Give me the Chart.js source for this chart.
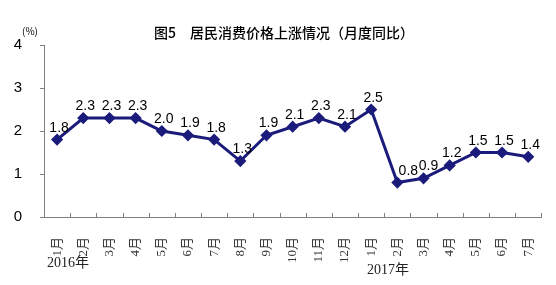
<!DOCTYPE html>
<html>
<head>
<meta charset="utf-8">
<script src="https://cdn.jsdelivr.net/npm/chart.js@4.4.0/dist/chart.umd.min.js"></script>
<style>
  html, body { margin: 0; padding: 0; background: #fff; }
  #wrap { width: 556px; height: 285px; }
</style>
</head>
<body>
<div id="wrap"><canvas id="c"></canvas></div>
<script>
const months = ["1月", "2月", "3月", "4月", "5月", "6月", "7月", "8月", "9月", "10月", "11月", "12月",
                "1月", "2月", "3月", "4月", "5月", "6月", "7月"];
const cpiYoY = [1.8, 2.3, 2.3, 2.3, 2.0, 1.9, 1.8, 1.3, 1.9, 2.1, 2.3, 2.1,
                2.5, 0.8, 0.9, 1.2, 1.5, 1.5, 1.4];
const yTicks = [0, 1, 2, 3, 4];
const yearLabels = ["2016年", "2017年"];
const titleText = "图5　居民消费价格上涨情况（月度同比）";

const LINE = "#1b1b7c";

// extra texts, x-axis inner ticks and value labels
const decor = {
    id: "decor",
    afterDraw(chart) {
        const ctx = chart.ctx;
        const area = chart.chartArea;
        ctx.save();

        // title
        ctx.fillStyle = "#000";
        ctx.font = "500 14px 'Noto Sans CJK SC'";
        ctx.textAlign = "center";
        ctx.textBaseline = "middle";
        ctx.fillText(titleText, 284, 33);

        // unit
        ctx.font = "10px 'Noto Sans CJK SC'";
        ctx.textAlign = "left";
        ctx.fillText("(%)", 22, 31);

        // x ticks pointing up, on category boundaries
        ctx.strokeStyle = "#808080";
        ctx.lineWidth = 1;
        const step = (area.right - area.left) / months.length;
        for (let i = 1; i <= months.length; i++) {
            const px = Math.round(area.left + i * step) + 0.5;
            ctx.beginPath();
            ctx.moveTo(px, area.bottom);
            ctx.lineTo(px, area.bottom - 4);
            ctx.stroke();
        }

        // year labels
        ctx.fillStyle = "#222";
        ctx.font = "14px 'Liberation Serif', 'Noto Sans CJK SC'";
        ctx.textAlign = "left";
        ctx.fillText(yearLabels[0], 47, 263);
        ctx.fillText(yearLabels[1], 367, 270);

        // value labels
        ctx.fillStyle = "#000";
        ctx.font = "14px 'Liberation Sans', Arial";
        ctx.textAlign = "center";
        ctx.textBaseline = "alphabetic";
        const meta = chart.getDatasetMeta(0);
        meta.data.forEach((pt, i) => {
            let dx = 2;
            if (i === 13) dx = 11;
            if (i === 14) dx = 5;
            ctx.fillText(cpiYoY[i].toFixed(1), pt.x + dx, pt.y - 8);
        });
        ctx.restore();
    }
};

new Chart(document.getElementById("c"), {
    type: "line",
    data: {
        labels: months,
        datasets: [{
            data: cpiYoY,
            borderColor: LINE,
            backgroundColor: LINE,
            borderWidth: 3,
            pointStyle: "rectRot",
            pointRadius: 4,
            pointBackgroundColor: LINE,
            pointBorderColor: LINE,
            tension: 0,
        }],
    },
    options: {
        responsive: true,
        maintainAspectRatio: false,
        animation: false,
        layout: { padding: { top: 45, right: 6, left: 0, bottom: 0 } },
        plugins: {
            legend: { display: false },
            tooltip: { enabled: false },
            title: { display: false },
        },
        scales: {
            x: {
                offset: true,
                grid: { display: false },
                border: { display: true, color: "#808080", width: 1 },
                ticks: {
                    minRotation: 90,
                    maxRotation: 90,
                    autoSkip: false,
                    padding: 12,
                    color: "#333",
                    font: { size: 13, family: "'Liberation Serif', 'Noto Sans CJK SC'" },
                },
                afterFit(scale) { scale.height = 68; },
            },
            y: {
                min: 0,
                max: 4,
                afterBuildTicks(scale) { scale.ticks = yTicks.map(v => ({ value: v })); },
                grid: { drawOnChartArea: false, tickLength: 4, color: "#808080" },
                border: { display: true, color: "#808080", width: 1 },
                ticks: {
                    padding: 18,
                    color: "#000",
                    font: { size: 15, family: "'Liberation Sans', Arial" },
                },
                afterFit(scale) { scale.width = 44; },
            },
        },
    },
    plugins: [decor],
});
</script>
</body>
</html>
